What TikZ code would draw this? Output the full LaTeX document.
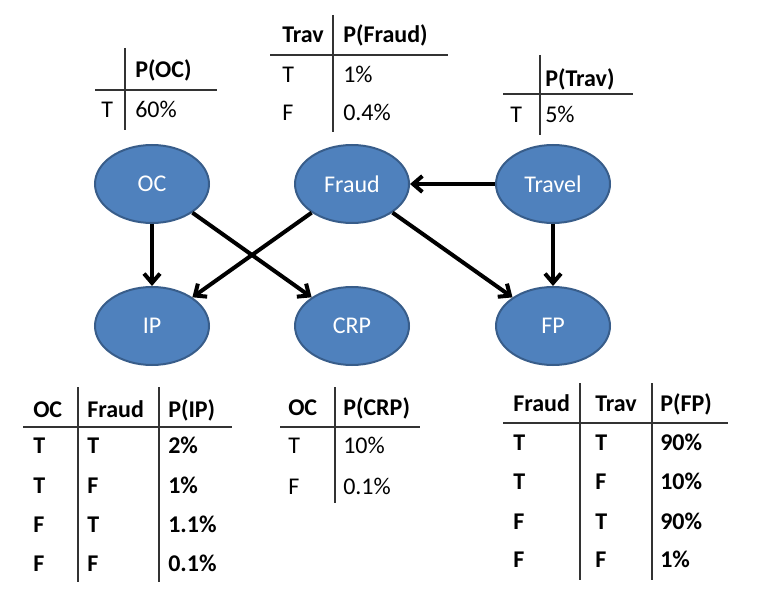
\documentclass[tikz,border=0pt]{standalone}
\usepackage{fontspec}
\setmainfont{Carlito}
\usetikzlibrary{positioning,arrows.meta,shapes.geometric}

\definecolor{varfill}{HTML}{4F81BD}
\definecolor{varedge}{HTML}{385D8A}

\begin{document}
\begin{tikzpicture}[
  x=0.75pt, y=-0.75pt,
  >={Straight Barb[length=7pt,width=12pt]},
  var/.style={ellipse, draw=varedge, fill=varfill, line width=1.5pt,
    minimum width=85.5pt, minimum height=58.5pt, inner sep=0pt,
    text=white, font=\fontsize{18}{22}\selectfont},
  link/.style={->, line width=3pt},
  rule/.style={draw=black!80, line width=1pt},
  cell/.style={anchor=west, inner sep=0pt, text height=11.6pt, text depth=0pt,
    font=\fontsize{18}{22}\selectfont},
  hd/.style={cell, font=\fontsize{18}{22}\selectfont\bfseries}
]

\useasboundingbox (0,0) rectangle (759,605);

% -----------------------
% Layout parameters (pixels)
% -----------------------
\def\xL{152}
\def\xM{352}
\def\xR{553}
\def\yTop{184}
\def\yBot{326}

% -----------------------
% Variables
% -----------------------
\node[var] (oc)    at (\xL,\yTop) {OC};
\node[var] (fraud) at (\xM,\yTop) {Fraud};
\node[var] (trav)  at (\xR,\yTop) {Travel};
\node[var] (ip)    at (\xL,\yBot) {IP};
\node[var] (crp)   at (\xM,\yBot) {CRP};
\node[var] (fp)    at (\xR,\yBot) {FP};

% -----------------------
% Dependencies
% -----------------------
\draw[link] (oc) -- (ip);
\draw[link] (oc) -- (crp);
\draw[link] (fraud) -- (ip);
\draw[link] (fraud) -- (fp);
\draw[link] (trav) -- (fraud);
\draw[link] (trav) -- (fp);

% -----------------------
% Table P(OC)
% -----------------------
\draw[rule] (125,48) -- (125,130);
\draw[rule] (95,90) -- (217,90);
\node[hd]   (ocH)  at (135,70)  {P(OC)};
\node[cell] (ocT)  at (101,110) {T};
\node[cell] (ocP)  at (135,110) {60\%};

% -----------------------
% Table P(Fraud | Trav)
% -----------------------
\draw[rule] (333,15) -- (333,132);
\draw[rule] (270,55) -- (448,55);
\node[hd]   (frH1) at (282,35)  {Trav};
\node[hd]   (frH2) at (343,35)  {P(Fraud)};
\node[cell] (frT)  at (282,75)  {T};
\node[cell] (frPT) at (343,75)  {1\%};
\node[cell] (frF)  at (282,113) {F};
\node[cell] (frPF) at (343,113) {0.4\%};

% -----------------------
% Table P(Trav)
% -----------------------
\draw[rule] (540,55) -- (540,135);
\draw[rule] (503,94) -- (633,94);
\node[hd]   (trH)  at (545,79)  {P(Trav)};
\node[cell] (trT)  at (510,115) {T};
\node[cell] (trP)  at (545,115) {5\%};

% -----------------------
% Table P(IP | OC, Fraud)
% -----------------------
\draw[rule] (78,387) -- (78,582);
\draw[rule] (159,387) -- (159,582);
\draw[rule] (23,427) -- (232,427);
\node[hd] (ipH1) at (33,410)  {OC};
\node[hd] (ipH2) at (87,410)  {Fraud};
\node[hd] (ipH3) at (168,410) {P(IP)};
\node[hd] (ipA1) at (33,446)  {T};
\node[hd] (ipA2) at (87,446)  {T};
\node[hd] (ipA3) at (168,446) {2\%};
\node[hd] (ipB1) at (33,486)  {T};
\node[hd] (ipB2) at (87,486)  {F};
\node[hd] (ipB3) at (168,486) {1\%};
\node[hd] (ipC1) at (33,525)  {F};
\node[hd] (ipC2) at (87,525)  {T};
\node[hd] (ipC3) at (168,525) {1.1\%};
\node[hd] (ipD1) at (33,564)  {F};
\node[hd] (ipD2) at (87,564)  {F};
\node[hd] (ipD3) at (168,564) {0.1\%};

% -----------------------
% Table P(CRP | OC)
% -----------------------
\draw[rule] (335,387) -- (335,503);
\draw[rule] (280,427) -- (420,427);
\node[hd]   (crH1) at (288,408) {OC};
\node[hd]   (crH2) at (343,408) {P(CRP)};
\node[cell] (crT)  at (288,446) {T};
\node[cell] (crPT) at (343,446) {10\%};
\node[cell] (crF)  at (288,487) {F};
\node[cell] (crPF) at (343,487) {0.1\%};

% -----------------------
% Table P(FP | Fraud, Trav)
% -----------------------
\draw[rule] (580,383) -- (580,580);
\draw[rule] (652,383) -- (652,580);
\draw[rule] (503,423) -- (728,423);
\node[hd] (fpH1) at (513,404) {Fraud};
\node[hd] (fpH2) at (595,404) {Trav};
\node[hd] (fpH3) at (660,404) {P(FP)};
\node[hd] (fpA1) at (513,443) {T};
\node[hd] (fpA2) at (595,443) {T};
\node[hd] (fpA3) at (660,443) {90\%};
\node[hd] (fpB1) at (513,482) {T};
\node[hd] (fpB2) at (595,482) {F};
\node[hd] (fpB3) at (660,482) {10\%};
\node[hd] (fpC1) at (513,522) {F};
\node[hd] (fpC2) at (595,522) {T};
\node[hd] (fpC3) at (660,522) {90\%};
\node[hd] (fpD1) at (513,560) {F};
\node[hd] (fpD2) at (595,560) {F};
\node[hd] (fpD3) at (660,560) {1\%};

\end{tikzpicture}
\end{document}
